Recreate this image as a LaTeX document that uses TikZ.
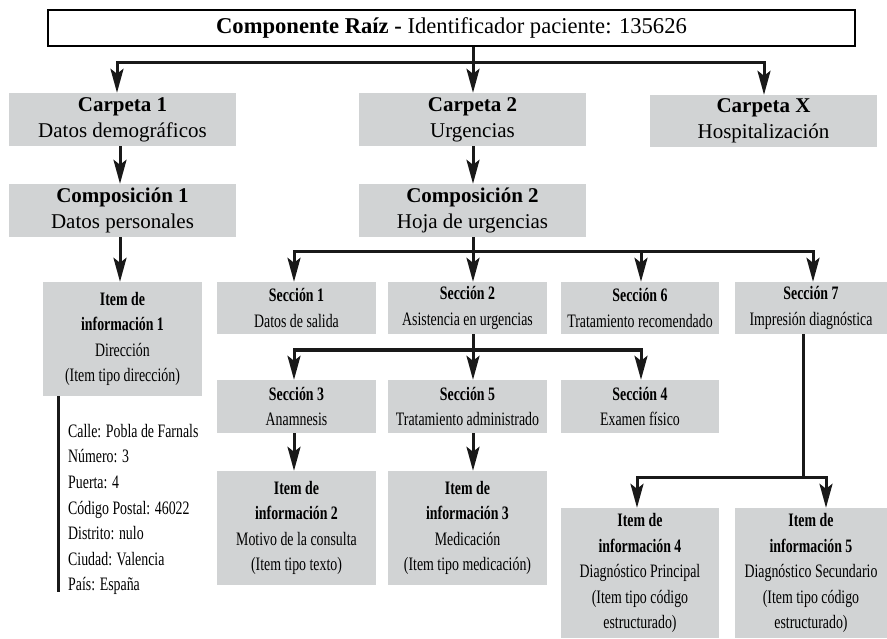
\documentclass[tikz,border=0pt]{standalone}
\usepackage{fontspec}
\setmainfont{Liberation Serif}
\newfontfamily\cnd{Liberation Serif}[FakeStretch=0.73]
\usetikzlibrary{arrows.meta}
\definecolor{boxgray}{HTML}{D1D3D4}
\tikzset{
  x=1pt, y=-1pt,
  bigbox/.style={fill=boxgray, draw=none, inner sep=0pt, align=center,
    font=\fontsize{21}{26}\selectfont},
  smallbox/.style={fill=boxgray, draw=none, inner sep=0pt, align=center,
    font=\cnd\fontsize{19}{25.5}\selectfont},
  rootbox/.style={fill=white, draw=black, line width=1.6pt, inner sep=0pt,
    font=\fontsize{22.6}{27}\selectfont},
  conn/.style={line width=3pt, draw=black!90},
  arr/.style={conn, -{Stealth[length=24pt,width=13pt,inset=5pt]}},
}
\begin{document}
\begin{tikzpicture}
\useasboundingbox (0,0) rectangle (887,639);
% columns
\coordinate (X117) at (117,0);
\coordinate (X120) at (120,0);
\coordinate (X294) at (294,0);
\coordinate (X473) at (473,0);
\coordinate (X641) at (641,0);
\coordinate (X637) at (637,0);
\coordinate (X764) at (764,0);
\coordinate (X803) at (803,0);
\coordinate (X813) at (813,0);
\coordinate (X826) at (826,0);
\coordinate (X58) at (58,0);

% root
\node[rootbox, minimum width=807pt, minimum height=36pt] (root) at (451.5,28)
  {\textbf{Componente Raíz -} Identificador paciente: 135626};

% level 1
\node[bigbox, minimum width=227pt, minimum height=53pt] (c1) at (122.5,119.5)
  {\textbf{Carpeta 1}\\Datos demográficos};
\node[bigbox, minimum width=227pt, minimum height=53pt] (c2) at (472.5,119.5)
  {\textbf{Carpeta 2}\\Urgencias};
\node[bigbox, minimum width=227pt, minimum height=52pt] (cx) at (763.5,121)
  {\textbf{Carpeta X}\\Hospitalización};

% level 2
\node[bigbox, minimum width=227pt, minimum height=53pt] (comp1) at (122.5,210.5)
  {\textbf{Composición 1}\\Datos personales};
\node[bigbox, minimum width=227pt, minimum height=53pt] (comp2) at (472.5,210.5)
  {\textbf{Composición 2}\\Hoja de urgencias};

% level 3
\node[smallbox, minimum width=159pt, minimum height=114pt] (it1) at (122.5,339)
  {\textbf{Item de}\\\textbf{información 1}\\Dirección\\(Item tipo dirección)};
\node[smallbox, minimum width=159pt, minimum height=52pt] (s1) at (296.5,308)
  {\textbf{Sección 1}\\Datos de salida};
\node[smallbox, minimum width=159pt, minimum height=52pt] (s2) at (467.5,308)
  {\textbf{Sección 2}\\Asistencia en urgencias};
\node[smallbox, minimum width=158pt, minimum height=52pt] (s6) at (640,308)
  {\textbf{Sección 6}\\Tratamiento recomendado};
\node[smallbox, minimum width=152pt, minimum height=52pt] (s7) at (811,308)
  {\textbf{Sección 7}\\Impresión diagnóstica};

% level 4
\node[smallbox, minimum width=159pt, minimum height=53pt] (s3) at (296.5,406.5)
  {\textbf{Sección 3}\\Anamnesis};
\node[smallbox, minimum width=159pt, minimum height=53pt] (s5) at (467.5,406.5)
  {\textbf{Sección 5}\\Tratamiento administrado};
\node[smallbox, minimum width=158pt, minimum height=53pt] (s4) at (640,406.5)
  {\textbf{Sección 4}\\Examen físico};

% level 5
\node[smallbox, minimum width=159pt, minimum height=114pt] (it2) at (296.5,528)
  {\textbf{Item de}\\\textbf{información 2}\\Motivo de la consulta\\(Item tipo texto)};
\node[smallbox, minimum width=159pt, minimum height=114pt] (it3) at (467.5,528)
  {\textbf{Item de}\\\textbf{información 3}\\Medicación\\(Item tipo medicación)};
\node[smallbox, minimum width=158pt, minimum height=130pt] (it4) at (640,573)
  {\textbf{Item de}\\\textbf{información 4}\\Diagnóstico Principal\\(Item tipo código\\estructurado)};
\node[smallbox, minimum width=152pt, minimum height=130pt] (it5) at (811,573)
  {\textbf{Item de}\\\textbf{información 5}\\Diagnóstico Secundario\\(Item tipo código\\estructurado)};

% address
\node[anchor=west, inner sep=0pt, align=left, font=\cnd\fontsize{19}{25.6}\selectfont] (addr) at (68,509.5)
  {Calle: Pobla de Farnals\\Número: 3\\Puerta: 4\\Código Postal: 46022\\Distrito: nulo\\Ciudad: Valencia\\País: España};
\coordinate (addrEnd) at (58,592);

% connectors: root -> carpetas
\coordinate (b1) at (473,63);
\draw[conn] (root.south -| X473) -- (b1);
\draw[arr] (b1) -| (c1.north -| X117);
\draw[arr] (b1) -- (c2.north -| X473);
\draw[arr] (b1) -| (cx.north -| X764);

% carpetas -> composiciones
\draw[arr] (c1.south -| X120) -- (comp1.north -| X120);
\draw[arr] (c2.south -| X473) -- (comp2.north -| X473);

% comp1 -> item1
\draw[arr] (comp1.south -| X120) -- (it1.north -| X120);

% comp2 -> secciones
\coordinate (b2) at (473,252);
\draw[conn] (comp2.south -| X473) -- (b2);
\draw[arr] (b2) -| (s1.north -| X294);
\draw[arr] (b2) -- (s2.north -| X473);
\draw[arr] (b2) -| (s6.north -| X641);
\draw[arr] (b2) -| (s7.north -| X813);

% s2 -> s3, s5, s4
\coordinate (b3) at (473,350);
\draw[conn] (s2.south -| X473) -- (b3);
\draw[arr] (b3) -| (s3.north -| X294);
\draw[arr] (b3) -- (s5.north -| X473);
\draw[arr] (b3) -| (s4.north -| X641);

% s3 -> it2, s5 -> it3
\draw[arr] (s3.south -| X294) -- (it2.north -| X294);
\draw[arr] (s5.south -| X473) -- (it3.north -| X473);

% s7 -> it4, it5
\coordinate (b4) at (803,477);
\draw[conn] (s7.south -| X803) -- (b4);
\draw[arr] (b4) -| (it4.north -| X637);
\draw[arr] (b4) -| (it5.north -| X826);

% item1 -> address bar
\draw[conn] (it1.south -| X58) -- (addrEnd);
\end{tikzpicture}
\end{document}
